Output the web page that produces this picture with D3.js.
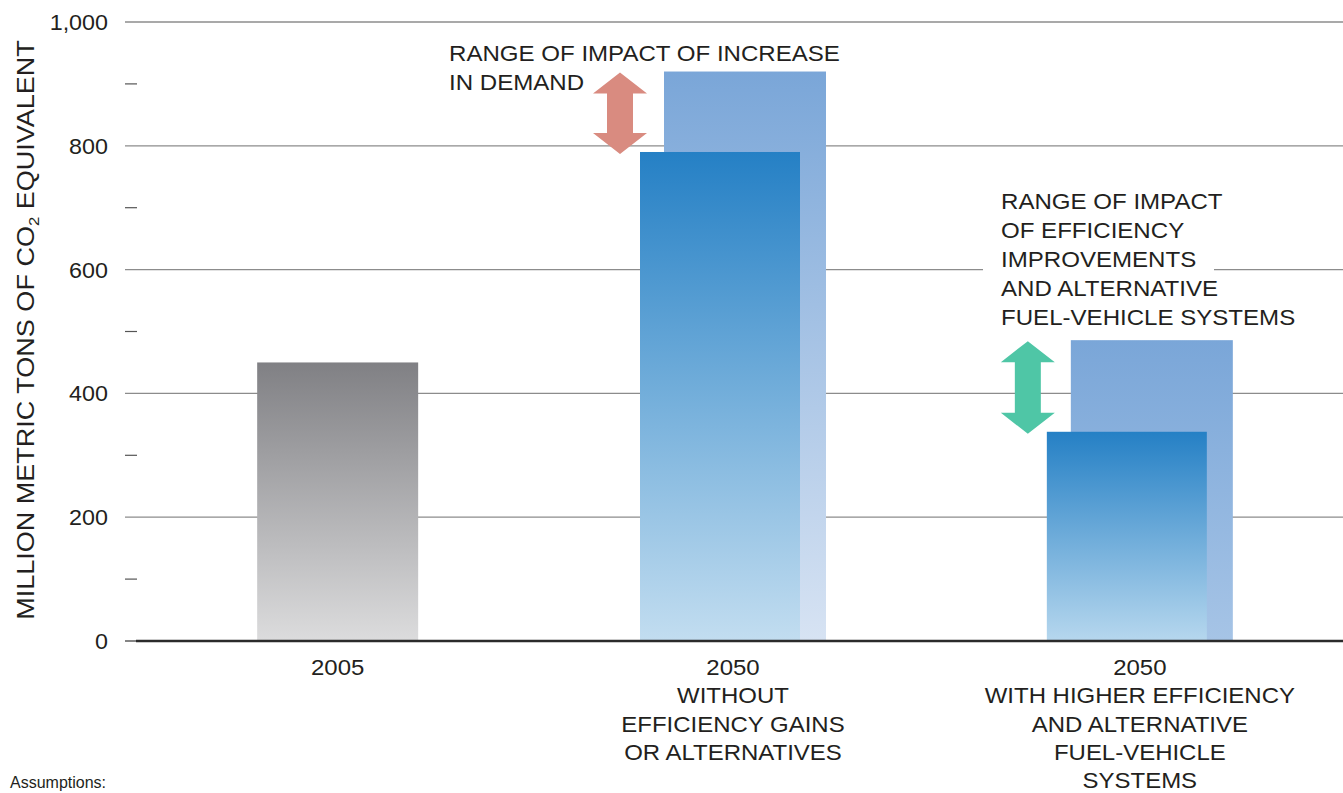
<!DOCTYPE html>
<html><head><meta charset="utf-8">
<script src="https://cdn.jsdelivr.net/npm/d3@7"></script>
<style>body{margin:0;background:#fff}svg{display:block;font-family:"Liberation Sans",Arial,sans-serif}</style>
</head><body>
<svg id="c" width="1343" height="793"></svg>
<script>
const categories = ["2005", "2050 without", "2050 with"];
const categoryLabels = [
  ["2005"],
  ["2050", "WITHOUT", "EFFICIENCY GAINS", "OR ALTERNATIVES"],
  ["2050", "WITH HIGHER EFFICIENCY", "AND ALTERNATIVE", "FUEL-VEHICLE", "SYSTEMS"]
];
const lowValues = [450, 790, 338];     // front bars
const highValues = [null, 920, 486];   // back (range) bars
const majorTicks = [0, 200, 400, 600, 800, 1000];
const minorTicks = [100, 300, 500, 700, 900];
const annotation1 = ["RANGE OF IMPACT OF INCREASE", "IN DEMAND"];
const annotation2 = ["RANGE OF IMPACT", "OF EFFICIENCY", "IMPROVEMENTS", "AND ALTERNATIVE", "FUEL-VEHICLE SYSTEMS"];

const svg = d3.select("#c");
const y = d3.scaleLinear().domain([0, 1000]).range([641, 22]);
const x = d3.scaleBand().domain(categories).range([140, 1338]);
const groupShift = [-2, -6, 1.5];
const centers = categories.map((c, i) => x(c) + x.bandwidth() / 2 + groupShift[i]);
const barW = 161;

const defs = svg.append("defs");
function grad(id, top, bottom, y0, y1) {
  const g = defs.append("linearGradient").attr("id", id)
    .attr("gradientUnits", "userSpaceOnUse").attr("x1", 0).attr("x2", 0).attr("y1", y0).attr("y2", y1);
  g.append("stop").attr("offset", 0).attr("stop-color", top);
  g.append("stop").attr("offset", 1).attr("stop-color", bottom);
}
grad("gGray", "#808084", "#dcdcdd", y(lowValues[0]), y(0));
grad("gBack1", "#7aa6d8", "#d7e3f3", y(highValues[1]), y(0));
grad("gFront1", "#2580c5", "#c2ddf0", y(lowValues[1]), y(0));
grad("gBack2", "#7aa6d8", "#a6c4e6", y(highValues[2]), y(0));
grad("gFront2", "#2580c5", "#b6d7ee", y(lowValues[2]), y(0));

// gridlines
svg.append("g").selectAll("line").data(majorTicks.filter(d => d > 0)).join("line")
  .attr("x1", 125).attr("x2", 1343).attr("y1", d => y(d)).attr("y2", d => y(d))
  .attr("stroke", "#8c8c8c").attr("stroke-width", 1.3);
svg.append("g").selectAll("line").data(minorTicks).join("line")
  .attr("x1", 125).attr("x2", 137).attr("y1", d => y(d)).attr("y2", d => y(d))
  .attr("stroke", "#555").attr("stroke-width", 1.2);
// tick labels
svg.append("g").selectAll("text").data(majorTicks).join("text")
  .attr("transform", d => `translate(108,${y(d) + 8}) scale(1.06,1)`).attr("text-anchor", "end")
  .attr("font-size", 22).attr("fill", "#231f20").text(d => d3.format(",")(d));

// white box behind annotation 2
svg.append("rect").attr("x", 983).attr("y", 190).attr("width", 231).attr("height", 142).attr("fill", "#fff");

// bars
const gradsFront = ["url(#gGray)", "url(#gFront1)", "url(#gFront2)"];
const gradsBack = [null, "url(#gBack1)", "url(#gBack2)"];
categories.forEach((c, i) => {
  const cx = centers[i];
  if (highValues[i] != null) {
    svg.append("rect").attr("x", cx - 69).attr("width", barW + 1)
      .attr("y", y(highValues[i])).attr("height", y(0) - y(highValues[i])).attr("fill", gradsBack[i]);
    svg.append("rect").attr("x", cx - 93).attr("width", barW - 1)
      .attr("y", y(lowValues[i])).attr("height", y(0) - y(lowValues[i])).attr("fill", gradsFront[i]);
  } else {
    svg.append("rect").attr("x", cx - barW / 2).attr("width", barW)
      .attr("y", y(lowValues[i])).attr("height", y(0) - y(lowValues[i])).attr("fill", gradsFront[i]);
  }
});

// baseline
svg.append("line").attr("x1", 125).attr("x2", 137).attr("y1", y(0)).attr("y2", y(0)).attr("stroke", "#333").attr("stroke-width", 1.2);
svg.append("line").attr("x1", 136).attr("x2", 1343).attr("y1", y(0)).attr("y2", y(0)).attr("stroke", "#2b2b2b").attr("stroke-width", 2.4);

// arrows
function arrow(cx, v1, v0, color) {
  const top = y(v1) + 1, bot = y(v0) + 2;
  const hw = 27, sw = 13, hh = 21;
  const p = [[cx, top], [cx + hw, top + hh], [cx + sw, top + hh], [cx + sw, bot - hh], [cx + hw, bot - hh],
             [cx, bot], [cx - hw, bot - hh], [cx - sw, bot - hh], [cx - sw, top + hh], [cx - hw, top + hh]];
  svg.append("path").attr("d", d3.line()(p) + "Z").attr("fill", color);
}
arrow(centers[1] - 113, highValues[1], lowValues[1], "#d98b80");
arrow(centers[2] - 112, highValues[2], lowValues[2], "#4fc6a6");

// annotations
function block(lines, x0, y0, lh) {
  const t = svg.append("text").attr("transform", `translate(${x0},${y0}) scale(1.095,1)`)
    .attr("font-size", 22).attr("fill", "#231f20");
  lines.forEach((l, i) => t.append("tspan").attr("x", 0).attr("y", i * lh).text(l));
}
block(annotation1, 449, 61, 29);
block(annotation2, 1001, 209, 29);

// category labels
categoryLabels.forEach((lines, i) => {
  const t = svg.append("text").attr("transform", `translate(${centers[i]},675) scale(1.09,1)`)
    .attr("font-size", 22).attr("fill", "#231f20").attr("text-anchor", "middle");
  lines.forEach((l, j) => t.append("tspan").attr("x", 0).attr("y", j * 28.3).text(l));
});

// y axis title
const yt = svg.append("text").attr("transform", "translate(34,330) rotate(-90) scale(1.15,1)")
  .attr("text-anchor", "middle").attr("font-size", 23.5).attr("fill", "#231f20");
yt.append("tspan").text("MILLION METRIC TONS OF CO");
yt.append("tspan").attr("font-size", 14.5).attr("dy", 5).text("2");
yt.append("tspan").attr("dy", -5).text(" EQUIVALENT");

svg.append("text").attr("x", 10).attr("y", 788).attr("font-size", 16).attr("fill", "#231f20").text("Assumptions:");
</script>
</body></html>
